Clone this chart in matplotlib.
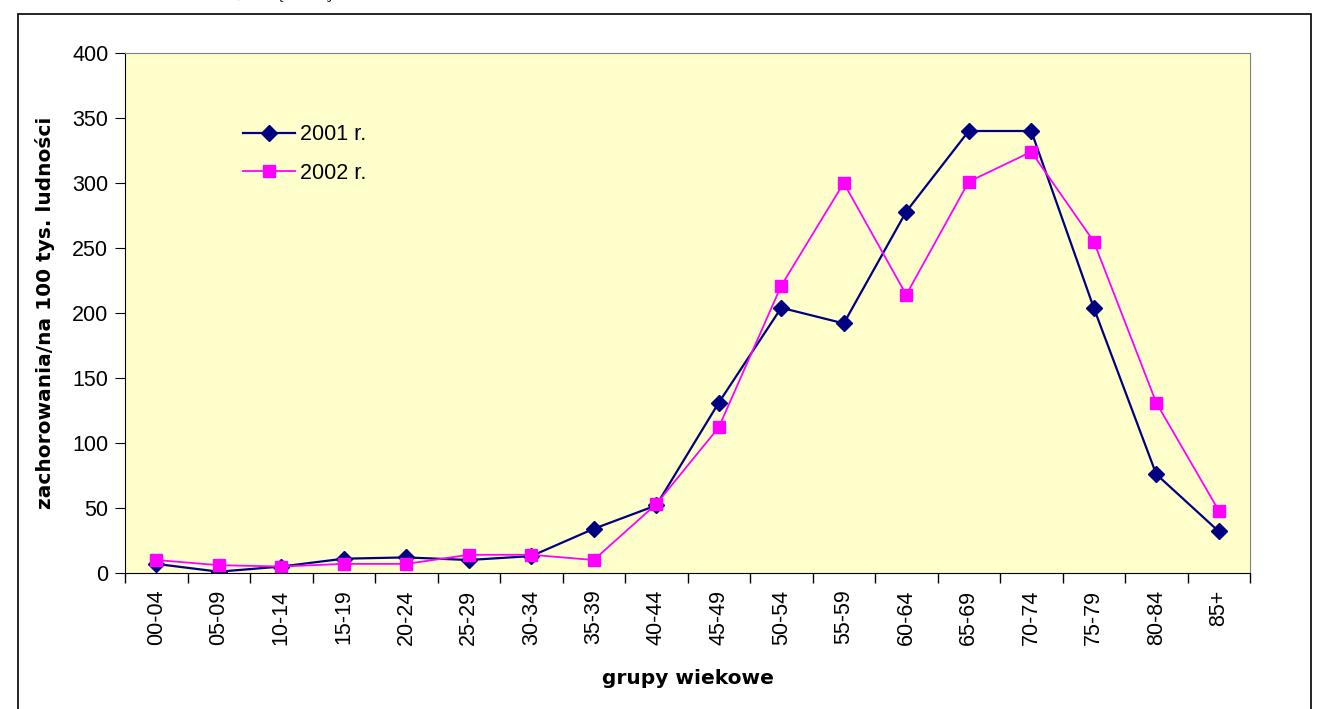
import numpy as np
import matplotlib.pyplot as plt
from matplotlib.patches import Rectangle

plt.rcParams['font.family'] = ['Liberation Sans', 'DejaVu Sans']

age_groups = ['00-04', '05-09', '10-14', '15-19', '20-24', '25-29', '30-34', '35-39',
              '40-44', '45-49', '50-54', '55-59', '60-64', '65-69', '70-74', '75-79',
              '80-84', '85+']
rate_2001 = [7, 1, 5, 11, 12, 10, 13, 34, 52, 131, 204, 192, 278, 340, 340, 204, 76, 32]
rate_2002 = [10, 6, 5, 7, 7, 14, 14, 10, 53, 112, 221, 300, 214, 301, 324, 255, 131, 48]

W, H = 1321, 709
fig = plt.figure(figsize=(W / 100, H / 100), dpi=100)
ax = fig.add_axes([125 / W, 1 - 573 / H, 1125 / W, 520 / H])
ax.set_facecolor('#FFFFCC')

x = np.arange(len(age_groups))
ax.plot(x, rate_2001, color='#000080', marker='D', markersize=8.5, lw=1.6, label='2001 r.')
ax.plot(x, rate_2002, color='#FF00FF', marker='s', markersize=8, lw=1.3, label='2002 r.')

ax.set_xlim(-0.5, len(age_groups) - 0.5)
ax.set_ylim(0, 400)
ax.set_yticks(np.arange(0, 401, 50))
ax.set_xticks(x)
ax.set_xticklabels(age_groups, rotation=90, fontsize=15.5)
ax.set_xticks(np.arange(-0.5, len(age_groups)), minor=True)
ax.tick_params(axis='x', which='major', length=0, pad=12)
ax.tick_params(axis='x', which='minor', length=7, direction='out', width=1)
ax.tick_params(axis='y', length=7, direction='out', labelsize=15.5, pad=5)

for s in ['top', 'right']:
    ax.spines[s].set_color('#808080')
for s in ['left', 'bottom']:
    ax.spines[s].set_color('black')

ax.set_xlabel('grupy wiekowe', fontsize=14.5, fontweight='bold', family='DejaVu Sans', labelpad=17)
ax.set_ylabel('zachorowania/na 100 tys. ludności', fontsize=14.5, fontweight='bold',
              family='DejaVu Sans', labelpad=12)

ax.legend(loc='upper left', bbox_to_anchor=(0.088, 0.9), frameon=False, fontsize=15.5,
          handlelength=2.4, labelspacing=0.8, handletextpad=0.25)

# outer chart border
fig.patches.append(Rectangle((18 / W, -0.05), (1311 - 18) / W, 1.05 - 14 / H,
                             transform=fig.transFigure, fill=False, edgecolor='black', lw=1.2))

# cut-off line of text above the chart
fig.text(178 / W, 1 + 2 / H, 'w Polsce, w części kraju', fontsize=12,
         family='Liberation Serif', va='baseline')

fig.savefig('out.png', dpi=100)
